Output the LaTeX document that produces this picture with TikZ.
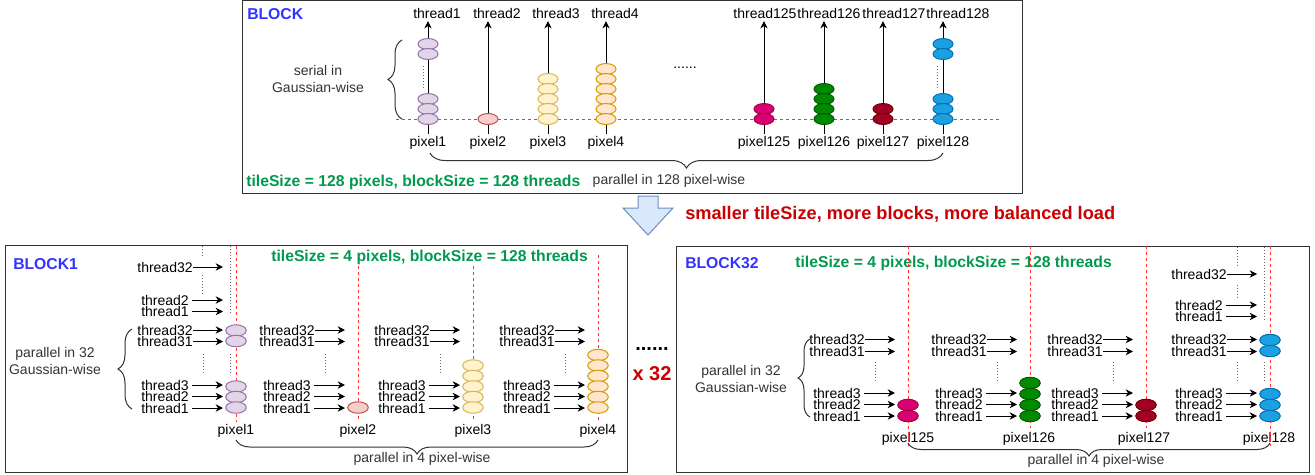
\documentclass[tikz,border=0pt]{standalone}
\usepackage{fontspec}
\setmainfont{Liberation Sans}
\usetikzlibrary{arrows.meta,decorations.pathreplacing}

\definecolor{blocktitle}{HTML}{3333FF}
\definecolor{sizetext}{HTML}{00994D}
\definecolor{notered}{HTML}{CC0000}
\definecolor{gridred}{HTML}{FF3333}
\definecolor{commenttext}{HTML}{333333}
\definecolor{dotgray}{HTML}{666666}
\definecolor{purplefill}{HTML}{E1D5E7}  \definecolor{purpleline}{HTML}{9673A6}
\definecolor{pinkfill}{HTML}{F8CECC}    \definecolor{pinkline}{HTML}{B85450}
\definecolor{yellowfill}{HTML}{FFF2CC}  \definecolor{yellowline}{HTML}{D6B656}
\definecolor{orangefill}{HTML}{FFE6CC}  \definecolor{orangeline}{HTML}{D79B00}
\definecolor{magentafill}{HTML}{D80073} \definecolor{magentaline}{HTML}{A50040}
\definecolor{greenfill}{HTML}{008A00}   \definecolor{greenline}{HTML}{005700}
\definecolor{winefill}{HTML}{A20025}    \definecolor{wineline}{HTML}{6F0000}
\definecolor{bluefill}{HTML}{1BA1E2}    \definecolor{blueline}{HTML}{006EAF}
\definecolor{arrowfill}{HTML}{DAE8FC}   \definecolor{arrowline}{HTML}{6C8EBF}

\begin{document}
\begin{tikzpicture}[x=0.75pt, y=-0.75pt,
    txt/.style={font=\fontsize{10.5}{12.9}\selectfont, inner sep=2pt},
    note/.style={txt, text=commenttext, align=center},
    thr/.style={font=\fontsize{10.5}{12.9}\selectfont, inner sep=0pt, minimum width=40.5pt},
    title/.style={font=\fontsize{11.8}{14}\selectfont\bfseries, text=blocktitle, anchor=west, inner sep=0pt},
    sizes/.style={font=\fontsize{11.8}{14}\selectfont\bfseries, text=sizetext, anchor=west, inner sep=0pt},
    frame/.style={draw=commenttext, line width=0.75pt},
    arr/.style={-{Stealth[length=5.5pt,width=5.5pt]}, line width=0.75pt},
    gridline/.style={draw=gridred, line width=0.75pt, dash pattern=on 2.25pt off 2.25pt},
    dotline/.style={draw=dotgray, line width=0.75pt, dash pattern=on 0.75pt off 1.5pt},
    brc/.style={decorate, decoration={brace, amplitude=#1}, draw=commenttext, line width=0.75pt},
    gpurple/.style={fill=purplefill, draw=purpleline, line width=0.75pt},
    gpink/.style={fill=pinkfill, draw=pinkline, line width=0.75pt},
    gyellow/.style={fill=yellowfill, draw=yellowline, line width=0.75pt},
    gorange/.style={fill=orangefill, draw=orangeline, line width=0.75pt},
    gmagenta/.style={fill=magentafill, draw=magentaline, line width=0.75pt},
    ggreen/.style={fill=greenfill, draw=greenline, line width=0.75pt},
    gwine/.style={fill=winefill, draw=wineline, line width=0.75pt},
    gblue/.style={fill=bluefill, draw=blueline, line width=0.75pt}]
    %--------------------%
    % Parameters
    %--------------------%
    \def\rxtop{7.5pt}
    \def\rytop{4.1pt}
    \def\rx{7.7pt}
    \def\ry{4.3pt}

    \useasboundingbox (0,0) rectangle (1315,475);

    %--------------------%
    % Top block
    %--------------------%
    \draw[frame] (242,0.5) rectangle (1022,193);
    \node[title] (blk) at (247,14) {BLOCK};

    % Labels
    \foreach \n/\tx in {1/437,2/497,3/556,4/615,125/765,126/829,127/894,128/958}
        \node[txt] (t\n) at (\tx,13) {thread\n};
    \foreach \n/\px in {1/428,2/488,3/548,4/606,125/764,126/824,127/883,128/943}
        \node[txt] (p\n) at (\px,143) {pixel\n};

    % Threads
    \draw[gridline] (396,119.5) -- (1000,119.5);
    \foreach \n in {1,2,3,4,125,126,127,128}
        \draw[arr] (p\n) -- (p\n |- t\n.south);
    \draw[dotline] (423,66) -- (423,89);
    \draw[dotline] (937,66) -- (937,89);

    % Gaussians
    \foreach \y in {44,54,99,109,119}
        \filldraw[gpurple] (428,\y) ellipse [x radius=\rxtop, y radius=\rytop];
    \filldraw[gpink] (488,119) ellipse [x radius=\rxtop, y radius=\rytop];
    \foreach \y in {79,89,99,109,119}
        \filldraw[gyellow] (548,\y) ellipse [x radius=\rxtop, y radius=\rytop];
    \foreach \y in {69,79,89,99,109,119}
        \filldraw[gorange] (606,\y) ellipse [x radius=\rxtop, y radius=\rytop];
    \foreach \y in {109,119}
        \filldraw[gmagenta] (764,\y) ellipse [x radius=\rxtop, y radius=\rytop];
    \foreach \y in {89,99,109,119}
        \filldraw[ggreen] (824,\y) ellipse [x radius=\rxtop, y radius=\rytop];
    \foreach \y in {109,119}
        \filldraw[gwine] (883,\y) ellipse [x radius=\rxtop, y radius=\rytop];
    \foreach \y in {44,54,99,109,119}
        \filldraw[gblue] (943,\y) ellipse [x radius=\rxtop, y radius=\rytop];

    % Braces and notes
    \draw[brc=10.5pt] (402,119) -- (402,40);
    \node[note] (serial) at (318,79) {serial in\\Gaussian-wise};
    \node[txt] (gap) at (685,68) {......};
    \draw[brc=11.25pt] (943,153) -- (430,153);
    \node[note] (par128) at (669,181) {parallel in 128 pixel-wise};
    \node[sizes] (size0) at (246,182) {tileSize = 128 pixels, blockSize = 128 threads};

    %--------------------%
    % Transition
    %--------------------%
    \filldraw[fill=arrowfill, draw=arrowline, line width=0.75pt]
        (638,196) -- (658,196) -- (658,208) -- (673,208) -- (648,235) -- (623,208) -- (638,208) -- cycle;
    \node[font=\fontsize{13.65}{16}\selectfont\bfseries, text=notered, anchor=west, inner sep=0pt] (msg) at (685,214)
        {smaller tileSize, more blocks, more balanced load};
    \node[font=\fontsize{15}{18}\selectfont\bfseries, inner sep=0pt] (more) at (652,349) {......};
    \node[font=\fontsize{15}{18}\selectfont\bfseries, text=notered, inner sep=0pt] (times) at (652,374) {x 32};

    %--------------------%
    % BLOCK1
    %--------------------%
    \draw[frame] (5,245) rectangle (627,472);
    \node[title] (blk1) at (13,264) {BLOCK1};
    \node[sizes] (size1) at (271,257) {tileSize = 4 pixels, blockSize = 128 threads};

    % Pixels
    \draw[gridline] (236,246) -- (236,422);
    \draw[gridline] (358,266) -- (358,422);
    \draw[gridline] (473,266) -- (473,422);
    \draw[gridline] (598,255) -- (598,422);
    \foreach \n/\px in {1/236,2/358,3/473,4/598}
        \node[txt] (b1p\n) at (\px,431) {pixel\n};

    % Threads
    \foreach \c/\cx in {a/236,b/358,c/473,d/598}{
        \foreach \r/\ty in {32/330,31/341.5,3/385,2/396.5,1/408}{
            \node[thr] (\c\r) at (\cx-71,\ty) {thread\r};
            \coordinate (e\c\r) at (\cx-13,\ty);
            \draw[arr] (\c\r) -- (e\c\r);
        }
        \draw[dotline] (\cx-33,354) -- (\cx-33,374);
    }
    \draw[dotline] (230,354) -- (230,374);
    \foreach \r/\ty in {32/267,2/300,1/311.5}{
        \node[thr] (at\r) at (165,\ty) {thread\r};
        \coordinate (eat\r) at (223,\ty);
        \draw[arr] (at\r) -- (eat\r);
    }
    \draw[dotline] (202,246) -- (202,258);
    \draw[dotline] (202,275) -- (202,294);
    \draw[dotline] (230,246) -- (230,315);

    % Gaussians
    \foreach \y in {330.5,341,386.5,397,407.5}
        \filldraw[gpurple] (236,\y) ellipse [x radius=\rx, y radius=\ry];
    \filldraw[gpink] (358,407.5) ellipse [x radius=\rx, y radius=\ry];
    \foreach \y in {365.5,376,386.5,397,407.5}
        \filldraw[gyellow] (473,\y) ellipse [x radius=\rx, y radius=\ry];
    \foreach \y in {355,365.5,376,386.5,397,407.5}
        \filldraw[gorange] (598,\y) ellipse [x radius=\rx, y radius=\ry];

    % Braces and notes
    \draw[brc=10.5pt] (132,409) -- (132,329);
    \node[note] (par32a) at (55,361) {parallel in 32\\Gaussian-wise};
    \draw[brc=10.5pt] (598,440) -- (236,440);
    \node[note] (par4a) at (422,459) {parallel in 4 pixel-wise};

    %--------------------%
    % BLOCK32
    %--------------------%
    \draw[frame] (676,246) rectangle (1309,472);
    \node[title] (blk32) at (685,263) {BLOCK32};
    \node[sizes] (size32) at (795,263) {tileSize = 4 pixels, blockSize = 128 threads};

    % Pixels
    \foreach \n/\px in {125/908,126/1029,127/1144,128/1269}
        \node[txt] (b32p\n) at (\px,439) {pixel\n};
    \draw[gridline] (908,246) -- (908,446);
    \draw[gridline] (1030,246) -- (1030,428);
    \draw[gridline] (1146,246) -- (1146,428);
    \draw[gridline] (1270,246) -- (1270,446);

    % Threads
    \foreach \c/\cx in {e/908,f/1030,g/1146,h/1270}{
        \foreach \r/\ty in {32/339.5,31/351.5,3/393,2/404.5,1/416}{
            \node[thr] (\c\r) at (\cx-71,\ty) {thread\r};
            \coordinate (e\c\r) at (\cx-13,\ty);
            \draw[arr] (\c\r) -- (e\c\r);
        }
        \draw[dotline] (\cx-33,362) -- (\cx-33,382);
    }
    \draw[dotline] (1264,362) -- (1264,382);
    \foreach \r/\ty in {32/274,2/305,1/316.5}{
        \node[thr] (ht\r) at (1199,\ty) {thread\r};
        \coordinate (eht\r) at (1257,\ty);
        \draw[arr] (ht\r) -- (eht\r);
    }
    \draw[dotline] (1237,247) -- (1237,266);
    \draw[dotline] (1237,285) -- (1237,300);
    \draw[dotline] (1264,247) -- (1264,321);

    % Gaussians
    \foreach \y in {405,416}
        \filldraw[gmagenta] (908,\y) ellipse [x radius=\rx, y radius=\ry];
    \foreach \y in {383,394,405,416}
        \filldraw[ggreen] (1030,\y) ellipse [x radius=\rx, y radius=\ry];
    \foreach \y in {405,416}
        \filldraw[gwine] (1146,\y) ellipse [x radius=\rx, y radius=\ry];
    \foreach \y in {340,351,394,405,416}
        \filldraw[gblue] (1270,\y) ellipse [x radius=\rx, y radius=\ry];

    % Braces and notes
    \draw[brc=9pt] (810,417) -- (810,339);
    \node[note] (par32b) at (741,379) {parallel in 32\\Gaussian-wise};
    \draw[brc=9.75pt] (1270,443) -- (908,443);
    \node[note] (par4b) at (1096,461) {parallel in 4 pixel-wise};

\end{tikzpicture}
\end{document}
